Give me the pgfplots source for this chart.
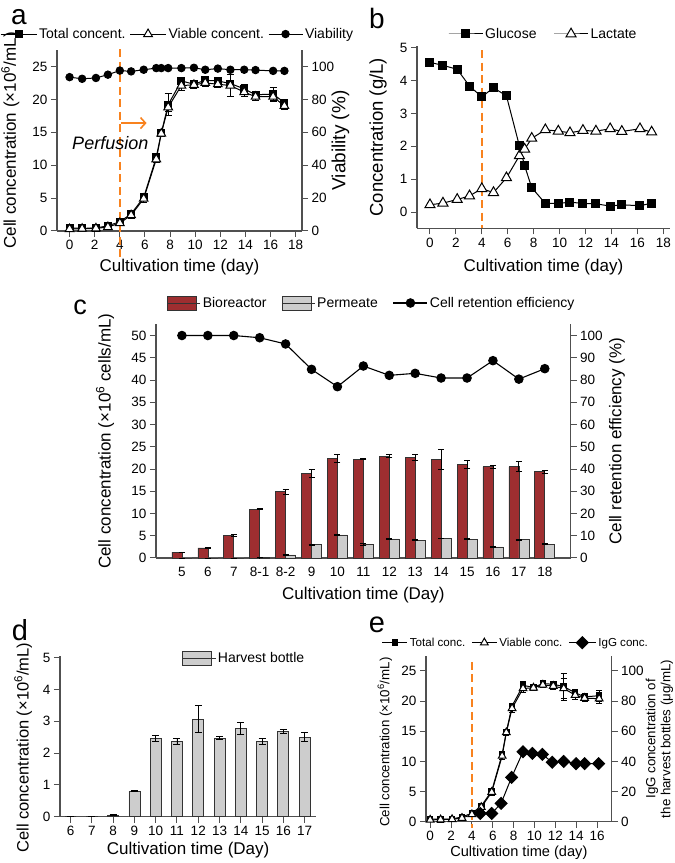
\documentclass[border=0pt]{standalone}
\usepackage{pgfplots}
\pgfplotsset{compat=1.18}
\usepackage{pgfplotstable}
\usepackage{fontspec}
\setmainfont{Liberation Sans}
\usetikzlibrary{arrows.meta}

\definecolor{axgray}{RGB}{80,80,80}
\definecolor{porange}{RGB}{248,130,30}
\definecolor{biored}{RGB}{158,46,48}
\definecolor{pgray}{RGB}{205,205,205}

\newcommand{\fs}[1]{\fontsize{#1}{#1}\selectfont}

\pgfplotsset{
  base/.style={
    scale only axis, clip=false,
    axis line style={-, axgray, line width=1.1pt},
    tick style={axgray, line width=1pt},
    tick align=outside, major tick length=6pt,
    tick label style={font=\fs{13.5}},
    label style={font=\fs{17}},
    /pgf/number format/assume math mode=true,
    legend style={draw=none, fill=none, inner sep=0pt, font=\fs{14}, nodes={inner ysep=1.5pt, inner xsep=2pt}},
    legend cell align=left,
  },
  linelegend/.style={legend image code/.code={\draw[mark repeat=2,mark phase=2,##1] plot coordinates {(0pt,0pt) (#1/2,0pt) (#1,0pt)};}},
  boxlegend/.style={legend image code/.code={\draw[##1] (0pt,-7pt) rectangle (29pt,7pt); \path (0pt,0pt) -- (33pt,0pt);}},
  ebars/.style={/pgfplots/error bars/y dir=both, /pgfplots/error bars/y explicit,
    /pgfplots/error bars/error bar style={black, line width=0.8pt, solid},
    /pgfplots/error bars/error mark options={rotate=90, mark size=#1, black, line width=0.8pt, solid}},
}

% panel a: time, total, err, viable, err, viability, err
\pgfplotstableread{
t    tot  totE via  viaE vb   vbE
0    0.45 0.15 0.30 0.10 93.5 1.2
1    0.40 0.10 0.35 0.10 92.5 1.0
2.1  0.45 0.10 0.40 0.10 93.0 1.0
3.05 0.80 0.30 0.60 0.30 95.0 1.0
4    1.40 0.30 1.20 0.30 97.5 0.8
4.9  2.60 0.40 2.40 0.50 97.0 0.5
5.9  5.10 0.40 4.90 0.50 98.0 0.5
6.9  11.2 0.40 10.9 0.50 99.0 0.3
7.3  14.9 0.40 14.8 0.50 99.0 0.3
7.85 19.2 1.70 18.8 0.60 99.0 0.3
8.9  22.8 0.50 22.1 0.70 99.0 0.3
9.9  22.3 0.50 22.2 0.60 99.2 0.3
10.8 22.9 0.40 22.5 0.50 98.0 0.4
11.8 22.8 0.40 22.3 0.50 98.7 0.3
12.8 22.4 2.00 22.1 1.70 98.0 0.4
13.9 21.6 0.60 21.1 0.70 98.0 0.4
14.8 20.7 0.50 20.4 0.60 97.8 0.4
16.2 20.8 1.00 20.4 0.70 97.3 0.5
17.1 19.5 0.50 19.0 0.60 97.3 0.4
}\dataA

\pgfplotstableread{
t    glu  lac
0    4.55 0.22
1    4.46 0.27
2.1  4.34 0.38
3.05 3.83 0.49
4    3.50 0.71
4.9  3.78 0.59
5.9  3.53 1.04
6.9  2.01 1.71
7.3  1.41 1.91
7.85 0.74 2.24
8.9  0.26 2.50
9.9  0.26 2.46
10.8 0.30 2.41
11.8 0.26 2.48
12.8 0.25 2.46
13.9 0.18 2.53
14.8 0.22 2.45
16.2 0.19 2.53
17.1 0.27 2.43
}\dataB

\pgfplotstableread{
i  bio  bioE perm permE ret
0  1.30 0.05 0.00 0.00 100
1  2.25 0.05 0.00 0.00 100
2  5.10 0.20 0.00 0.00 100
3  11.0 0.10 0.10 0.02 99.0
4  14.9 0.60 0.70 0.05 96.2
5  19.0 0.80 3.00 0.10 84.8
6  22.4 0.90 5.20 0.10 77.0
7  22.2 0.10 3.10 0.20 86.3
8  22.9 0.40 4.30 0.20 82.1
9  22.6 0.70 4.00 0.10 83.0
10 22.2 2.20 4.40 0.10 80.9
11 21.1 0.90 4.20 0.10 80.9
12 20.5 0.40 2.50 0.20 88.7
13 20.5 1.10 4.10 0.10 80.4
14 19.4 0.30 3.10 0.10 85.1
}\dataC

\pgfplotstableread{
x  v    e
6  0.00 0.00
7  0.01 0.00
8  0.05 0.01
9  0.80 0.02
10 2.47 0.10
11 2.37 0.10
12 3.07 0.42
13 2.47 0.05
14 2.77 0.18
15 2.36 0.09
16 2.68 0.07
17 2.50 0.14
}\dataD

\pgfplotstableread{
t    tot  totE via  viaE
0    0.45 0.15 0.30 0.10
1    0.40 0.10 0.35 0.10
2.1  0.45 0.10 0.40 0.10
3.05 0.80 0.30 0.60 0.30
4    1.40 0.30 1.20 0.30
4.9  2.60 0.40 2.40 0.50
5.9  5.10 0.40 4.90 0.50
6.9  11.2 0.40 10.9 0.50
7.3  14.9 0.40 14.8 0.50
7.85 19.2 0.50 18.8 0.60
8.9  22.6 0.60 22.1 0.70
9.9  22.3 0.40 22.2 0.50
10.8 22.9 0.40 22.7 0.50
11.8 22.8 0.50 22.5 0.50
12.8 22.4 2.20 22.1 1.70
13.9 21.4 0.60 21.0 0.70
14.8 20.7 0.50 20.5 0.50
16.2 20.9 0.90 20.4 0.80
}\dataE

\pgfplotstableread{
t    igg
4.8  5.5
5.9  5.5
6.8  12.2
7.8  29.4
8.9  46.4
9.8  45.3
10.75 44.7
11.7 39.4
12.8 40.0
13.98 38.5
14.8 38.5
16.15 38.5
}\dataIgG

\begin{document}
\begin{tikzpicture}
\path[use as bounding box] (0,0) rectangle (675pt,863pt);

% panel letters
\node[font=\fs{28}, inner sep=0pt] at (19pt,846pt) {a};
\node[font=\fs{28}, inner sep=0pt] at (377pt,845pt) {b};
\node[font=\fs{27}, inner sep=0pt] at (80pt,556pt) {c};
\node[font=\fs{29}, inner sep=0pt] at (20pt,233pt) {d};
\node[font=\fs{29}, inner sep=0pt] at (377pt,238pt) {e};

%================ panel a ================
\begin{axis}[base, at={(57pt,632pt)}, anchor=south west, width=245pt, height=181pt,
  xmin=-1, xmax=18.5, ymin=0, ymax=27.5,
  axis x line*=bottom, axis y line*=left,
  xtick={0,2,...,18}, ytick={0,5,...,25},
  xlabel={Cultivation time (day)},
  ylabel={Cell concentration (×10\textsuperscript{6}/mL)},
  xlabel style={at={(axis description cs:0.5,-0.199)}, anchor=center},
  ylabel style={at={(axis description cs:-0.19,0.5)}, anchor=center},
  legend columns=3,
  legend style={at={(axis description cs:-0.2327,1.088)}, anchor=west,
    /tikz/every even column/.append style={column sep=2pt}},
]
\addplot[porange, line width=2.5pt, dash pattern=on 8pt off 4.5pt, forget plot] coordinates {(4,27.6) (4,-4)};
\addplot[black, line width=1pt, mark=square*, mark size=3.5pt, mark options={solid}, linelegend=36pt, ebars=3.5pt]
  table[x=t, y=tot, y error=totE] {\dataA};
\addlegendentry{Total concent.}
\addplot[black, line width=1pt, mark=triangle*, mark size=5pt, mark options={fill=white, draw=black, solid}, linelegend=36pt, ebars=3.5pt]
  table[x=t, y=via, y error=viaE] {\dataA};
\addlegendentry{Viable concent.}
\addlegendimage{black, line width=1pt, mark=*, mark size=3.7pt, linelegend=34pt}
\addlegendentry{Viability}
\draw[porange, line width=1.6pt, -{Straight Barb[length=5pt, width=11pt]}] (axis cs:4.08,16.4) -- (axis cs:6.13,16.4);
\node[font=\itshape\fs{18}] at (axis cs:3.24,13.3) {Perfusion};
\end{axis}
\begin{axis}[base, at={(57pt,632pt)}, anchor=south west, width=245pt, height=181pt,
  xmin=-1, xmax=18.5, ymin=0, ymax=110,
  axis y line*=right, axis x line=none,
  ytick={0,20,...,100},
  ylabel={Viability (\%)},
  ylabel style={at={(axis description cs:1.157,0.5)}, anchor=center, font=\fs{19}},
]
\addplot[black, line width=1pt, mark=*, mark size=3.7pt, ebars=3pt] table[x=t, y=vb, y error=vbE] {\dataA};
\end{axis}

%================ panel b ================
\begin{axis}[base, at={(417pt,634.55pt)}, anchor=south west, width=252.8pt, height=182.5pt,
  xmin=-1, xmax=18.5, ymin=-0.5, ymax=5.05,
  axis x line*=bottom, axis y line*=left,
  xtick={0,2,...,18}, ytick={0,1,...,5},
  xlabel={Cultivation time (day)},
  ylabel={Concentration (g/L)},
  xlabel style={at={(axis description cs:0.5,-0.211)}, anchor=center},
  ylabel style={at={(axis description cs:-0.154,0.5)}, anchor=center, font=\fs{18.5}},
  legend columns=2,
  legend style={at={(axis description cs:0.1226,1.0655)}, anchor=west,
    /tikz/every even column/.append style={column sep=15pt}},
]
\addplot[porange, line width=2.5pt, dash pattern=on 8pt off 4.5pt, forget plot] coordinates {(4,4.92) (4,-0.5)};
\addplot[black, line width=1pt, mark=square*, mark size=4pt, mark options={solid}, linelegend=34pt]
  table[x=t, y=glu] {\dataB};
\addlegendentry{Glucose}
\addplot[black, line width=1pt, mark=triangle*, mark size=5.8pt, mark options={fill=white, draw=black, solid}, linelegend=34pt]
  table[x=t, y=lac] {\dataB};
\addlegendentry{Lactate}
\end{axis}

%================ panel c ================
\begin{axis}[base, at={(156pt,305pt)}, anchor=south west, width=414.7pt, height=233.6pt,
  xmin=-1, xmax=15, ymin=0, ymax=52.5,
  axis x line*=bottom, axis y line*=left,
  xtick={0,...,14}, xticklabels={5,6,7,8-1,8-2,9,10,11,12,13,14,15,16,17,18},
  x tick style={draw=none},
  ytick={0,5,...,50},
  xlabel={Cultivation time (Day)},
  ylabel={Cell concentration (×10\textsuperscript{6} cells/mL)},
  xlabel style={at={(axis description cs:0.5,-0.158)}, anchor=center},
  ylabel style={at={(axis description cs:-0.123,0.5)}, anchor=center},
  legend columns=3,
  legend style={at={(axis description cs:0.0265,1.0916)}, anchor=west,
    /tikz/every even column/.append style={column sep=13pt}},
]
\addplot[ybar, bar width=10pt, bar shift=-5pt, fill=biored, draw=black!80, line width=0.6pt, boxlegend, ebars=3pt]
  table[x=i, y=bio, y error=bioE] {\dataC};
\addlegendentry{Bioreactor}
\addplot[ybar, bar width=10pt, bar shift=5pt, fill=pgray, draw=black!80, line width=0.6pt, boxlegend, ebars=3pt]
  table[x=i, y=perm, y error=permE] {\dataC};
\addlegendentry{Permeate}
\addlegendimage{black, line width=1.1pt, mark=*, mark size=4.2pt, sharp plot, linelegend=34pt}
\addlegendentry{Cell retention efficiency}
\end{axis}
\begin{axis}[base, at={(156pt,305pt)}, anchor=south west, width=414.7pt, height=233.6pt,
  xmin=-1, xmax=15, ymin=0, ymax=105,
  axis y line*=right, axis x line=none,
  ytick={0,10,...,100},
  ylabel={Cell retention efficiency (\%)},
  ylabel style={at={(axis description cs:1.1117,0.5)}, anchor=center},
]
\addplot[black, line width=1.1pt, mark=*, mark size=4.2pt] table[x=i, y=ret] {\dataC};
\end{axis}

%================ panel d ================
\begin{axis}[base, at={(60pt,46.3pt)}, anchor=south west, width=256.3pt, height=160.6pt,
  xmin=5.5, xmax=17.55, ymin=0, ymax=5.05,
  axis x line*=bottom, axis y line*=left,
  xtick={6,...,17}, ytick={0,1,...,5},
  xlabel={Cultivation time (Day)},
  ylabel={Cell concentration (×10\textsuperscript{6}/mL)},
  xlabel style={at={(axis description cs:0.5,-0.207)}, anchor=center},
  ylabel style={at={(axis description cs:-0.144,0.43)}, anchor=center, font=\fs{16.5}},
  legend style={at={(axis description cs:0.476,0.988)}, anchor=west},
]
\addplot[ybar, bar width=11pt, bar shift=0pt, fill=pgray, draw=black!80, line width=0.7pt, boxlegend, ebars=3.5pt]
  table[x=x, y=v, y error=e] {\dataD};
\addlegendentry{Harvest bottle}
\end{axis}

%================ panel e ================
\begin{axis}[base, at={(426pt,41.3pt)}, anchor=south west, width=185.7pt, height=165.8pt,
  xmin=-0.4, xmax=17.4, ymin=0, ymax=27.5,
  axis x line*=bottom, axis y line*=left,
  xtick={0,2,...,16}, ytick={0,5,...,25},
  xlabel={Cultivation time (day)},
  ylabel={Cell concentration (×10\textsuperscript{6}/mL)},
  xlabel style={at={(axis description cs:0.5,-0.189)}, anchor=center, font=\fs{14.6}},
  ylabel style={at={(axis description cs:-0.221,0.48)}, anchor=center, font=\fs{13.3}},
  legend columns=3,
  legend style={at={(axis description cs:-0.2386,1.0796)}, anchor=west, font=\fs{11.6},
    /tikz/every even column/.append style={column sep=4pt}},
]
\addplot[porange, line width=2.5pt, dash pattern=on 8pt off 4.5pt, forget plot] coordinates {(4,26.5) (4,-1.1)};
\addplot[black, line width=1pt, mark=square*, mark size=2.8pt, mark options={solid}, linelegend=25pt, ebars=3pt]
  table[x=t, y=tot, y error=totE] {\dataE};
\addlegendentry{Total conc.}
\addplot[black, line width=1pt, mark=triangle*, mark size=4.5pt, mark options={fill=white, draw=black, solid}, linelegend=25pt, ebars=3pt]
  table[x=t, y=via, y error=viaE] {\dataE};
\addlegendentry{Viable conc.}
\addlegendimage{black, line width=1pt, mark=square*, mark size=4.2pt, mark options={rotate=45}, linelegend=27pt}
\addlegendentry{IgG conc.}
\end{axis}
\begin{axis}[base, at={(426pt,41.3pt)}, anchor=south west, width=185.7pt, height=165.8pt,
  xmin=-0.4, xmax=17.4, ymin=0, ymax=110,
  axis y line*=right, axis x line=none,
  ytick={0,20,...,100},
  ylabel={IgG concentration of\\the harvest bottles (μg/mL)},
  ylabel style={at={(axis description cs:1.257,0.5)}, anchor=center, align=center, font=\fontsize{13.3}{15}\selectfont},
]
\addplot[black, line width=1pt, mark=square*, mark size=4.2pt, mark options={rotate=45}] table[x=t, y=igg] {\dataIgG};
\end{axis}
\end{tikzpicture}
\end{document}
